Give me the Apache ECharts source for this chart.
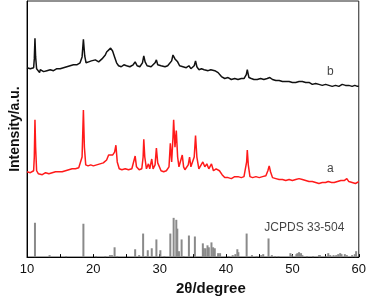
<!DOCTYPE html>
<html><head><meta charset="utf-8">
<script src="https://cdn.jsdelivr.net/npm/echarts@6/dist/echarts.min.js"></script>
<style>html,body{margin:0;padding:0;background:#fff}#c{width:369px;height:301px}</style>
</head><body><div id="c"></div>
<script>
var xTicks = [10, 20, 30, 40, 50, 60];
var curveB = [
[10.0,193],[10.3,191],[10.5,192],[10.8,194],[11.0,193],[11.1,202],[11.2,223],[11.3,204],[11.45,192],[11.7,190],[11.9,188],[12.0,191],[12.3,190],[12.5,189],[12.8,191],[13.0,190],[13.3,188],[13.5,191],[13.8,190],[14.0,190],[14.3,192],[14.5,192],[14.8,191],[15.0,192],[15.3,194],[15.5,193],[15.8,192],[16.0,194],[16.3,196],[16.5,195],[16.8,194],[17.0,196],[17.3,197],[17.5,196],[17.8,198],[18.0,198],[18.3,204],[18.5,222],[18.7,205],[18.9,198],[19.1,200],[19.3,199],[19.5,201],[19.7,200],[20.0,199],[20.3,201],[20.5,200],[20.8,199],[21.0,201],[21.3,202],[21.5,204],[21.8,206],[22.0,209],[22.3,211],[22.6,213],[22.9,210],[23.2,204],[23.5,198],[23.8,195],[24.0,196],[24.2,194],[24.4,196],[24.6,196],[24.8,194],[25.0,195],[25.3,196],[25.5,194],[25.8,195],[26.0,196],[26.3,199],[26.6,195],[26.8,196],[27.0,194],[27.2,195],[27.4,198],[27.6,205],[27.8,199],[28.1,195],[28.4,197],[28.7,194],[29.0,195],[29.3,198],[29.5,201],[29.7,196],[30.0,194],[30.2,195],[30.5,193],[30.8,194],[31.0,194],[31.2,195],[31.5,197],[31.8,200],[32.0,206],[32.1,208],[32.3,202],[32.5,201],[32.7,199],[33.0,195],[33.3,196],[33.5,194],[33.7,194],[34.0,193],[34.4,195],[34.7,192],[35.0,192],[35.2,195],[35.4,200],[35.6,194],[35.9,191],[36.1,192],[36.3,192],[36.5,190],[36.7,191],[37.0,192],[37.3,190],[37.5,191],[37.7,191],[38.0,189],[38.3,190],[38.5,190],[38.8,188],[39.0,186],[39.3,184],[39.5,183],[39.8,182],[40.0,182],[40.3,183],[40.5,182],[40.8,181],[41.0,183],[41.3,182],[41.5,182],[41.8,181],[42.0,182],[42.3,182],[42.5,181],[42.7,182],[42.9,183],[43.05,186],[43.2,191],[43.35,186],[43.45,183],[43.8,182],[44.0,181],[44.2,181],[44.5,182],[44.7,181],[45.0,180],[45.2,182],[45.5,181],[45.7,181],[46.0,182],[46.2,182],[46.4,181],[46.6,183],[46.8,182],[47.0,181],[47.3,181],[47.5,180],[47.8,181],[48.0,180],[48.3,179],[48.5,179],[48.8,180],[49.0,179],[49.3,178],[49.5,179],[49.8,179],[50.0,178],[50.3,179],[50.5,178],[50.8,178],[51.0,179],[51.3,180],[51.5,179],[51.7,178],[52.0,178],[52.2,177],[52.5,178],[52.7,177],[53.0,176],[53.2,176],[53.5,177],[53.7,176],[54.0,176],[54.2,175],[54.5,175],[54.7,176],[55.0,176],[55.2,176],[55.5,175],[55.7,175],[56.0,174],[56.2,174],[56.5,175],[56.7,175],[57.0,174],[57.2,175],[57.5,176],[57.7,175],[58.0,175],[58.2,174],[58.5,175],[58.7,175],[59.0,174],[59.2,174],[59.4,175],[59.6,175],[59.8,174],[60.0,174]
];
var curveA = [
[10.0,87],[10.3,86],[10.5,86],[10.8,87],[11.0,88],[11.1,102],[11.2,140],[11.3,112],[11.45,88],[11.7,85],[11.9,86],[12.0,86],[12.3,84],[12.5,85],[12.8,86],[13.0,86],[13.3,85],[13.5,87],[13.8,86],[14.0,86],[14.3,87],[14.5,88],[14.8,87],[15.0,88],[15.3,87],[15.5,89],[15.8,88],[16.0,90],[16.3,89],[16.5,89],[16.8,90],[17.0,91],[17.3,90],[17.5,92],[17.8,91],[18.0,92],[18.3,102],[18.5,150],[18.65,112],[18.85,94],[19.0,93],[19.2,93],[19.4,92],[19.6,94],[19.8,93],[20.0,93],[20.3,95],[20.5,94],[20.8,94],[21.0,95],[21.3,95],[21.5,96],[21.8,97],[22.0,99],[22.3,104],[22.6,102],[22.9,104],[23.2,107],[23.4,114],[23.6,97],[23.9,90],[24.1,91],[24.3,89],[24.6,90],[24.8,90],[25.0,89],[25.3,89],[25.5,90],[25.8,90],[26.1,92],[26.3,103],[26.5,92],[26.7,90],[26.9,89],[27.1,90],[27.3,90],[27.5,102],[27.6,120],[27.75,102],[28.0,90],[28.3,95],[28.5,90],[28.8,100],[29.0,90],[29.3,94],[29.5,111],[29.7,96],[30.0,94],[30.2,88],[30.4,88],[30.6,87],[30.8,88],[31.0,88],[31.2,89],[31.4,92],[31.6,116],[31.8,97],[32.0,122],[32.1,140],[32.3,112],[32.5,129],[32.7,102],[32.9,92],[33.2,94],[33.4,104],[33.6,92],[33.8,89],[34.0,88],[34.3,94],[34.5,102],[34.7,92],[35.0,90],[35.2,102],[35.4,124],[35.6,102],[35.9,90],[36.2,92],[36.5,97],[36.8,92],[37.1,95],[37.4,90],[37.8,95],[38.1,88],[38.5,90],[38.8,91],[39.0,88],[39.2,86],[39.4,84],[39.6,82],[39.8,81],[40.0,80],[40.3,81],[40.5,81],[40.8,80],[41.0,82],[41.3,82],[41.5,83],[41.8,82],[42.0,82],[42.3,81],[42.5,81],[42.7,82],[42.9,83],[43.1,97],[43.2,109],[43.35,94],[43.6,82],[43.8,81],[44.0,81],[44.3,82],[44.5,82],[44.8,81],[45.0,81],[45.3,82],[45.5,82],[45.8,82],[46.0,83],[46.3,88],[46.5,93],[46.7,87],[47.0,81],[47.3,81],[47.5,80],[47.8,80],[48.0,79],[48.3,80],[48.5,79],[48.8,78],[49.0,78],[49.3,79],[49.5,79],[49.8,78],[50.0,78],[50.3,79],[50.5,79],[50.8,80],[51.0,80],[51.2,81],[51.5,79],[51.8,78],[52.0,78],[52.3,77],[52.5,77],[52.8,78],[53.0,77],[53.3,76],[53.5,76],[53.8,76],[54.0,75],[54.3,76],[54.5,76],[54.8,77],[55.0,76],[55.2,76],[55.4,77],[55.7,78],[55.9,76],[56.0,75],[56.3,76],[56.5,76],[56.8,77],[57.0,77],[57.3,78],[57.5,77],[57.8,78],[58.0,79],[58.2,80],[58.5,77],[58.8,77],[59.0,76],[59.3,76],[59.5,75],[59.8,76],[60.0,77]
];
var stickPos = [11.2,13.4,15.9,18.5,20.4,21.8,22.5,22.8,23.2,23.6,26.3,26.9,27.5,27.9,28.2,28.8,29.5,30.1,30.7,31.6,32.1,32.5,32.65,32.9,33.3,33.6,34.4,35.3,36.5,36.65,36.9,37.2,37.4,37.8,38.05,38.3,38.8,39.1,40.4,41.0,41.4,41.7,41.85,43.1,43.9,44.6,45.3,45.6,46.4,46.9,47.4,47.9,49.7,49.9,50.6,50.75,51.0,51.3,51.5,52.2,53.1,54.0,54.15,55.1,55.4,55.7,56.2,56.6,56.9,57.2,57.4,57.9,58.2,59.0,59.4,59.6];
var stickInt = [35,2,1,34,1,1,2,2,10,1,8,2,24,1,7,9,18,7,1,24,40,38,29,6,18,1,22,21,14,9,9,12,10,15,10,9,4,4,1,2,3,8,5,24,2,1,2,3,19,2,1,1,4,2,3,4,5,4,2,1,1,2,2,1,4,2,2,2,3,4,3,3,2,2,3,6];
var labelB = ['b', 55.7, 189];
var labelA = ['a', 55.7, 90];
var labelRef = ['JCPDS 33-504', 51.8, 30];

var sticks = stickPos.map(function(p, i){ return [p, stickInt[i]]; });
var chart = echarts.init(document.getElementById('c'), null, {renderer:'canvas'});
function textSeries(lbl, size){
  return {type:'scatter', data:[[lbl[1], lbl[2]]], symbol:'circle', symbolSize:1, itemStyle:{color:'rgba(0,0,0,0)'}, silent:true, z:5,
    label:{show:true, position:'inside', formatter:lbl[0], color:'#111', fontSize:size, fontFamily:'Liberation Sans, Arial, sans-serif'}};
}
chart.setOption({
  animation:false,
  grid:{left:21, right:8, top:1, bottom:39, show:true, borderColor:'#222', borderWidth:1},
  xAxis:{type:'value', min:xTicks[0], max:xTicks[xTicks.length-1], interval:10,
    name:'2θ/degree', nameLocation:'middle', nameGap:20,
    nameTextStyle:{fontSize:15, fontWeight:'bold', color:'#111', fontFamily:'Liberation Sans, Arial, sans-serif', padding:[0,0,0,36]},
    axisLine:{show:true, lineStyle:{color:'#000', width:1}},
    axisTick:{show:true, inside:true, length:3, lineStyle:{color:'#000'}},
    minorTick:{show:true, splitNumber:2, length:3, lineStyle:{color:'#000'}},
    axisLabel:{fontSize:13, color:'#111', margin:6, fontFamily:'Liberation Sans, Arial, sans-serif'},
    splitLine:{show:false}},
  yAxis:{type:'value', min:0, max:261,
    name:'Intensity/a.u.', nameLocation:'middle', nameGap:5,
    nameTextStyle:{fontSize:14, fontWeight:'bold', color:'#111', fontFamily:'Liberation Sans, Arial, sans-serif'},
    axisLine:{show:true, lineStyle:{color:'#000', width:1}},
    axisTick:{show:false}, axisLabel:{show:false}, splitLine:{show:false}},
  series:[
    {type:'bar', data:sticks, barWidth:2, itemStyle:{color:'#8a8a8a'}, silent:true},
    {type:'line', data:curveA, showSymbol:false, lineStyle:{color:'#ff1a1a', width:1.5}, silent:true},
    {type:'line', data:curveB, showSymbol:false, lineStyle:{color:'#111', width:1.5}, silent:true},
    textSeries(labelB, 12), textSeries(labelA, 12), textSeries(labelRef, 12)
  ]
});
</script></body></html>
